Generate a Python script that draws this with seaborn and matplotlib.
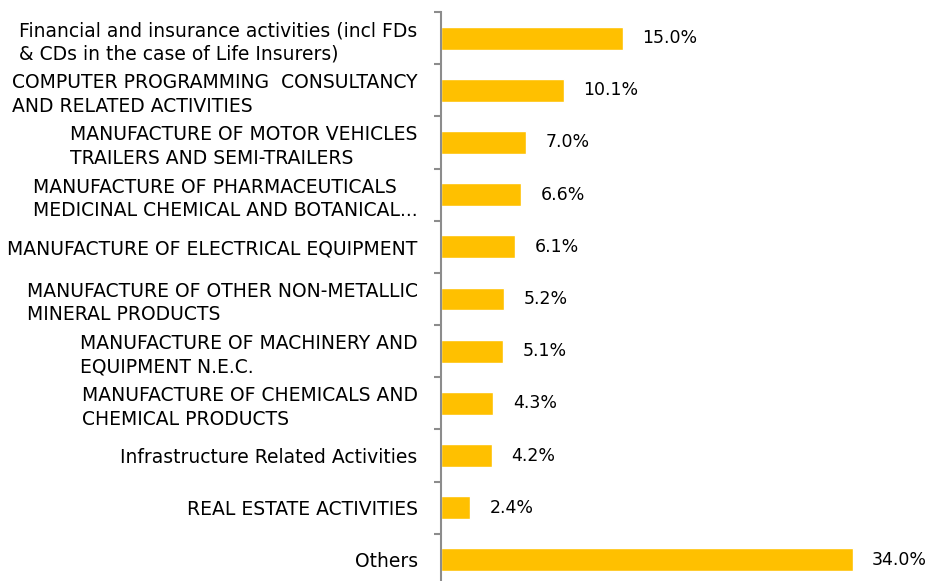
import numpy as np
import pandas as pd
import matplotlib
matplotlib.use('Agg')
import matplotlib.pyplot as plt
import seaborn as sns

# Sector shares
sectors = [
    'Financial and insurance activities (incl FDs\n& CDs in the case of Life Insurers)',
    'COMPUTER PROGRAMMING  CONSULTANCY\nAND RELATED ACTIVITIES',
    'MANUFACTURE OF MOTOR VEHICLES\nTRAILERS AND SEMI-TRAILERS',
    'MANUFACTURE OF PHARMACEUTICALS\nMEDICINAL CHEMICAL AND BOTANICAL...',
    'MANUFACTURE OF ELECTRICAL EQUIPMENT',
    'MANUFACTURE OF OTHER NON-METALLIC\nMINERAL PRODUCTS',
    'MANUFACTURE OF MACHINERY AND\nEQUIPMENT N.E.C.',
    'MANUFACTURE OF CHEMICALS AND\nCHEMICAL PRODUCTS',
    'Infrastructure Related Activities',
    'REAL ESTATE ACTIVITIES',
    'Others',
]
shares = [15.0, 10.1, 7.0, 6.6, 6.1, 5.2, 5.1, 4.3, 4.2, 2.4, 34.0]

df = pd.DataFrame({'sector': sectors, 'share': shares})

sns.set_style('white')
plt.rcParams['font.family'] = ['DejaVu Sans']

fig = plt.figure(figsize=(9.35, 5.81), dpi=100)
ax = fig.add_axes([0.472, -0.0086, 0.528, 0.988])

sns.barplot(data=df, y='sector', x='share', orient='h', color='#FFC000',
            width=0.44, saturation=1, ax=ax)

for c in ax.containers:
    ax.bar_label(c, labels=[f'{v:.1f}%' for v in df['share']], padding=14,
                 fontsize=12.5, color='black')

ax.set_xlim(0, 40.8)
ax.set_ylim(len(sectors) - 0.5, -0.5)
ax.set_xlabel('')
ax.set_ylabel('')
ax.set_xticks([])

for s in ['top', 'right', 'bottom']:
    ax.spines[s].set_visible(False)
ax.spines['left'].set_color('#8c8c8c')
ax.spines['left'].set_linewidth(1.5)

ax.set_yticks(np.arange(-0.5, len(sectors), 1.0), minor=True)
ax.tick_params(axis='y', which='major', left=True, length=0, pad=17,
               labelsize=13.5, labelcolor='black')
ax.tick_params(axis='y', which='minor', left=True, length=5, width=1.5,
               color='#8c8c8c', direction='out')
for lbl in ax.get_yticklabels():
    lbl.set_multialignment('left')
    lbl.set_linespacing(1.3)

fig.savefig('out.png', dpi=100)
